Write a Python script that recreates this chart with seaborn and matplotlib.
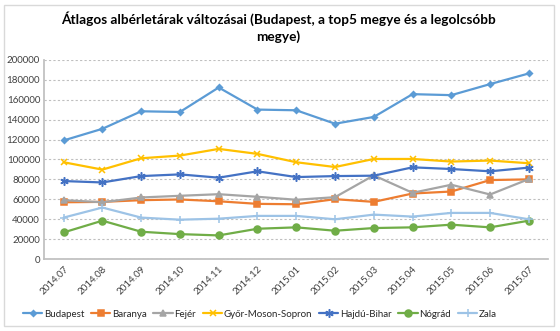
import matplotlib
matplotlib.use("Agg")
import matplotlib.pyplot as plt
import seaborn as sns
import pandas as pd
from matplotlib.patches import Rectangle

months = ["2014.07", "2014.08", "2014.09", "2014.10", "2014.11", "2014.12",
          "2015.01", "2015.02", "2015.03", "2015.04", "2015.05", "2015.06", "2015.07"]
budapest = [119100, 130800, 148400, 147700, 172300, 150100, 149400, 135900, 142700, 165600, 164600, 175700, 186400]
baranya = [57000, 57400, 59100, 59800, 58000, 55400, 55000, 60100, 57400, 65800, 67800, 79300, 80000]
fejer = [59100, 57000, 61800, 63500, 65100, 62500, 59500, 62100, 84000, 66500, 74600, 64800, 80300]
gyor = [97200, 89800, 101200, 103900, 110600, 105600, 97200, 92400, 100500, 100500, 97900, 98900, 96200]
hajdu = [78300, 76900, 83300, 85000, 81700, 88100, 82300, 83300, 83700, 92100, 90400, 88100, 91800]
nograd = [26700, 38500, 27400, 25000, 23700, 30400, 31800, 28400, 31100, 31800, 34500, 31800, 38500]
zala = [41600, 51700, 41600, 39500, 40500, 43300, 43300, 39900, 44600, 42600, 46300, 46300, 39900]

series_names = ["Budapest", "Baranya", "Fejér", "Győr-Moson-Sopron", "Hajdú-Bihar", "Nógrád", "Zala"]
series_values = [budapest, baranya, fejer, gyor, hajdu, nograd, zala]
colors = ["#5B9BD5", "#ED7D31", "#A5A5A5", "#FFC000", "#4472C4", "#70AD47", "#9DC3E6"]
markers = ["D", "s", "^", "x", (6, 2, 0), "o", "+"]
msizes = [3, 5, 5, 5, 6, 5, 5.5]

sns.set_theme(style="white")
plt.rcParams["font.family"] = ["Lato", "DejaVu Sans"]

rows = []
for name, vals in zip(series_names, series_values):
    for m, v in zip(months, vals):
        rows.append({"month": m, "value": v, "series": name})
df = pd.DataFrame(rows)

fig = plt.figure(figsize=(5.6, 3.31), dpi=100)
ax = fig.add_axes([0.079, 0.2175, 0.9, 0.6015])

for name, col, mk, ms in zip(series_names, colors, markers, msizes):
    sub = df[df["series"] == name]
    sns.lineplot(data=sub, x="month", y="value", ax=ax, color=col, linewidth=1.6,
                 marker=mk, markersize=ms, markeredgecolor=col, markeredgewidth=1.1,
                 label=name, sort=False)

ax.set_xlim(-0.5, len(months) - 0.5)
ax.set_ylim(0, 200000)
ax.set_yticks(range(0, 200001, 20000))
ax.set_yticklabels([str(v) for v in range(0, 200001, 20000)], fontsize=7, color="#404040")
ax.set_xticks(range(len(months)))
ax.set_xticklabels(months, rotation=45, ha="right", rotation_mode="anchor", fontsize=7, color="#404040")
ax.set_xlabel("")
ax.set_ylabel("")
ax.yaxis.grid(True, linestyle=(0, (2, 2)), color="#BFBFBF", linewidth=0.8)
ax.set_axisbelow(True)
for s in ["top", "right"]:
    ax.spines[s].set_visible(False)
ax.spines["left"].set_color("#BFBFBF")
ax.spines["bottom"].set_color("#BFBFBF")
ax.tick_params(axis="y", length=0, pad=3)
ax.tick_params(axis="x", length=0, pad=4)
ax.set_xticks([i - 0.5 for i in range(len(months) + 1)], minor=True)
ax.tick_params(axis="x", which="minor", length=4, color="#BFBFBF", direction="out")

h, l = ax.get_legend_handles_labels()
ax.get_legend().remove()
fig.legend(h, l, loc="center", bbox_to_anchor=(0.464, 0.051), ncol=7, frameon=False,
           fontsize=7, handlelength=2.0, columnspacing=0.7, handletextpad=0.15)

fig.suptitle("Átlagos albérletárak változásai (Budapest, a top5 megye és a legolcsóbb\nmegye)",
             x=0.497, y=0.965, fontsize=9.8, fontweight="bold", color="#000000", linespacing=1.35)

fig.patches.append(Rectangle((0.008, 0.015), 0.982, 0.97, transform=fig.transFigure,
                             fill=False, edgecolor="#D9D9D9", linewidth=1))

fig.savefig("out.png", dpi=100)
